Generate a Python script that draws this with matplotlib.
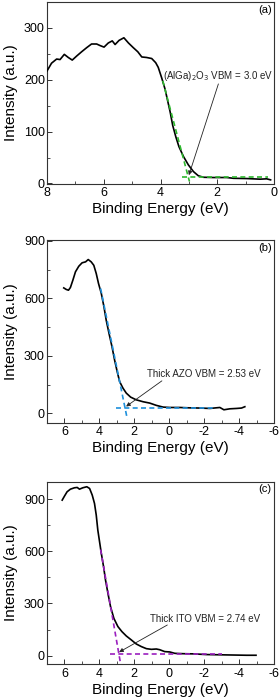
import matplotlib
matplotlib.use("Agg")
import matplotlib.pyplot as plt
from matplotlib.ticker import MultipleLocator, AutoMinorLocator

plt.rcParams['font.family'] = ['Liberation Sans', 'DejaVu Sans']
plt.rcParams['axes.unicode_minus'] = False

# ---------------- data ----------------
# (a) (AlGa)2O3
a_E = [8.0, 7.84, 7.66, 7.54, 7.39, 7.25, 7.11, 6.95, 6.78, 6.60, 6.43, 6.25, 6.13, 5.99,
       5.84, 5.70, 5.60, 5.46, 5.29, 5.13, 4.96, 4.80, 4.66, 4.49, 4.31, 4.17, 4.08, 3.96,
       3.84, 3.75, 3.66, 3.57, 3.46, 3.35, 3.19, 3.02, 2.84, 2.67, 2.49, 2.14, 1.67, 1.43,
       0.96, 0.49, 0.26, 0.12]
a_I = [217, 232, 240, 239, 249, 243, 238, 246, 254, 262, 269, 269, 266, 263,
       271, 275, 268, 276, 281, 271, 262, 254, 244, 243, 241, 233, 224, 204,
       182, 160, 138, 112, 90, 71, 52, 36, 23, 15, 12, 11.5, 11.5, 10,
       9.5, 8.3, 9, 7]
a_fit_steep_E = [3.92, 2.98]
a_fit_steep_I = [198, 4]
a_fit_base_E = [3.25, 0.2]
a_fit_base_I = [12, 12]

# (b) Thick AZO
b_E = [6.04, 5.90, 5.77, 5.66, 5.52, 5.37, 5.18, 4.99, 4.79, 4.64, 4.47, 4.32, 4.18, 4.05,
       3.89, 3.74, 3.61, 3.45, 3.28, 3.13, 2.98, 2.84, 2.65, 2.46, 2.21, 1.89, 1.50, 1.12,
       0.74, 0.35, -0.03, -0.60, -1.18, -1.75, -2.33, -2.90, -3.13, -3.47, -3.86, -4.14, -4.33]
b_I = [655, 647, 643, 657, 695, 739, 768, 786, 791, 803, 791, 773, 730, 678,
       626, 557, 487, 418, 349, 279, 218, 166, 132, 106, 85, 71, 61, 54,
       42, 33, 31, 31, 29, 28, 26, 31, 19, 24, 26, 28, 35]
b_fit_steep_E = [3.93, 2.40]
b_fit_steep_I = [652, -30]
b_fit_base_E = [3.03, -2.5]
b_fit_base_I = [28, 28]

# (c) Thick ITO
c_E = [6.13, 6.0, 5.85, 5.66, 5.43, 5.27, 5.14, 4.95, 4.72, 4.56, 4.41, 4.28, 4.18, 4.09,
       3.99, 3.89, 3.76, 3.65, 3.51, 3.36, 3.17, 2.94, 2.71, 2.46, 2.17, 1.89, 1.60, 1.31,
       1.02, 0.74, 0.55, 0.26, -0.03, -0.32, -0.79, -1.37, -2.13, -3.28, -4.43, -4.97]
c_I = [894, 917, 942, 957, 965, 967, 957, 965, 971, 961, 923, 875, 808, 722,
       655, 588, 511, 435, 358, 281, 214, 167, 138, 113, 90, 67, 52, 40,
       36, 38, 34, 23, 21, 13, 11, 10, 6, 4, 2, 2]
c_fit_steep_E = [3.93, 2.78]
c_fit_steep_I = [610, -50]
c_fit_base_E = [3.40, -3.0]
c_fit_base_I = [8, 8]

panels = [
    dict(E=a_E, I=a_I, sE=a_fit_steep_E, sI=a_fit_steep_I, bE=a_fit_base_E, bI=a_fit_base_I,
         color='#2eb82e', xlim=(8, 0), ylim=(-1, 350), xmaj=2, ymaj=100, label='(a)',
         text=r'(AlGa)$_2$O$_3$ VBM = 3.0 eV', txt=(1.97, 207), arr0=(1.96, 192), arr1=(3.0, 16),
         rect=[47/280, 1-184/697, 227/280, 182/697]),
    dict(E=b_E, I=b_I, sE=b_fit_steep_E, sI=b_fit_steep_I, bE=b_fit_base_E, bI=b_fit_base_I,
         color='#1e90dc', xlim=(7, -6), ylim=(-50, 905), xmaj=2, ymaj=300, label='(b)',
         text='Thick AZO VBM = 2.53 eV', txt=(-1.96, 206), arr0=(0.42, 170), arr1=(2.47, 36),
         rect=[47/280, 1-423/697, 227/280, 183/697]),
    dict(E=c_E, I=c_I, sE=c_fit_steep_E, sI=c_fit_steep_I, bE=c_fit_base_E, bI=c_fit_base_I,
         color='#9b1fbf', xlim=(7, -6), ylim=(-50, 1000), xmaj=2, ymaj=300, label='(c)',
         text='Thick ITO VBM = 2.74 eV', txt=(-2.07, 209), arr0=(0.11, 176), arr1=(2.87, 20),
         rect=[47/280, 1-664.3/697, 227/280, 182.6/697]),
]

fig = plt.figure(figsize=(2.8, 6.97), dpi=100)

for p in panels:
    ax = fig.add_axes(p['rect'])
    ax.plot(p['E'], p['I'], color='black', lw=1.2, zorder=3)
    ax.plot(p['sE'], p['sI'], color=p['color'], lw=1.2, ls=(0, (3, 2)), zorder=4)
    ax.plot(p['bE'], p['bI'], color=p['color'], lw=1.2, ls=(0, (3, 2)), zorder=4)
    ax.set_xlim(*p['xlim'])
    ax.set_ylim(*p['ylim'])
    ax.xaxis.set_major_locator(MultipleLocator(p['xmaj']))
    ax.yaxis.set_major_locator(MultipleLocator(p['ymaj']))
    ax.xaxis.set_minor_locator(AutoMinorLocator(2))
    ax.yaxis.set_minor_locator(AutoMinorLocator(2))
    ax.tick_params(which='both', direction='in', top=False, right=False,
                   labelsize=9, color='#333333')
    ax.tick_params(which='major', length=3.5, width=0.7)
    ax.tick_params(which='minor', length=2, width=0.6)
    ax.tick_params(axis='y', pad=1.5)
    ax.tick_params(axis='x', pad=2.5)
    for s in ax.spines.values():
        s.set_linewidth(0.8)
        s.set_color('#333333')
    ax.set_xlabel('Binding Energy (eV)', fontsize=11, labelpad=2)
    ax.set_ylabel('Intensity (a.u.)', fontsize=11, labelpad=4)
    ax.text(0.99, 0.985, p['label'], transform=ax.transAxes, ha='right', va='top', fontsize=8)
    ax.text(p['txt'][0], p['txt'][1], p['text'], ha='center', va='center', fontsize=7,
            color='#222222')
    ax.annotate('', xy=p['arr1'], xytext=p['arr0'],
                arrowprops=dict(arrowstyle='-|>', lw=0.6, color='#222222',
                                mutation_scale=6, shrinkA=0, shrinkB=0), zorder=5)

fig.savefig('out.png', dpi=100)
